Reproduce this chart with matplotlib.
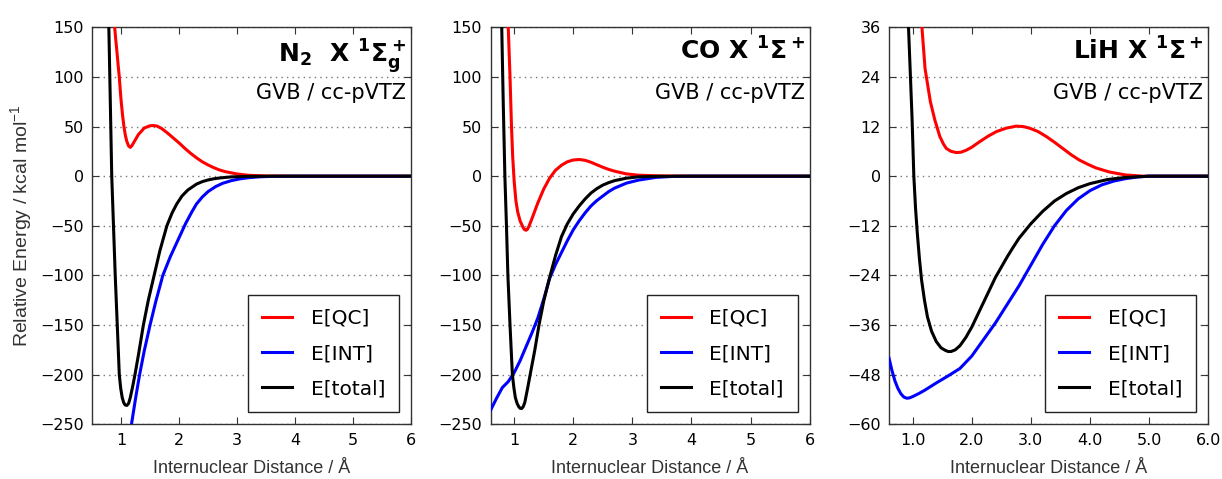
import matplotlib
matplotlib.use("Agg")
import matplotlib.pyplot as plt

plt.rcParams['font.family'] = ['DejaVu Sans']
plt.rcParams['mathtext.default'] = 'regular'

# ---- N2 X 1Sigma_g+ ----
n2_qc_x = [0.89, 0.91, 0.93, 0.95, 0.97, 0.985, 1.0, 1.025, 1.05, 1.075, 1.1, 1.13,
           1.16, 1.19, 1.23, 1.3, 1.4, 1.5, 1.56, 1.62, 1.7, 1.8, 1.9, 2.0, 2.1,
           2.2, 2.3, 2.4, 2.5, 2.6, 2.7, 2.8, 3.0, 3.2, 3.5, 4.0, 6.0]
n2_qc_y = [150, 137, 125, 112, 100, 88, 77, 62, 50, 41, 35, 30.5,
           29, 31, 35, 42, 48.5, 50.8, 51, 50.5, 48, 43.5, 38.5, 33.5, 28,
           23, 18.5, 14.5, 11.3, 8.5, 6.2, 4.5, 2.2, 0.9, 0.2, 0, 0]
n2_int_x = [1.18, 1.25, 1.32, 1.4, 1.5, 1.6, 1.72, 1.85, 2.0, 2.11, 2.22, 2.3, 2.4,
            2.5, 2.63, 2.75, 2.9, 3.05, 3.2, 3.4, 3.6, 4.0, 6.0]
n2_int_y = [-250, -224, -200, -176, -150, -126, -100, -81, -62, -48, -36, -28, -21,
            -15.5, -10.5, -7.2, -4.5, -2.7, -1.5, -0.6, -0.2, 0, 0]
n2_tot_x = [0.79, 0.815, 0.84, 0.87, 0.90, 0.935, 0.97, 0.995, 1.02, 1.045, 1.07,
            1.1, 1.13, 1.16, 1.2, 1.24, 1.3, 1.385, 1.47, 1.57, 1.67, 1.79, 1.88,
            1.96, 2.05, 2.15, 2.3, 2.4, 2.5, 2.6, 2.7, 2.9, 3.2, 3.6, 6.0]
n2_tot_y = [150, 75, 0, -50, -100, -150, -200, -214, -223, -228, -230.5,
            -231, -229, -223, -212, -200, -180, -150, -125, -100, -75, -50, -37,
            -28, -20, -14, -8, -5.5, -3.8, -2.6, -1.8, -0.7, -0.2, 0, 0]

# ---- CO X 1Sigma+ ----
co_qc_x = [0.90, 0.93, 0.955, 0.975, 1.0, 1.03, 1.06, 1.1, 1.15, 1.175, 1.2, 1.225,
           1.25, 1.3, 1.35, 1.4, 1.5, 1.6, 1.7, 1.8, 1.9, 2.0, 2.1, 2.2, 2.3, 2.4,
           2.5, 2.6, 2.7, 2.9, 3.1, 3.4, 3.7, 4.0, 6.0]
co_qc_y = [150, 100, 50, 20, -5, -25, -36, -45, -51.5, -53.8, -54.5, -53.5,
           -50.5, -43, -35, -27, -13, -2, 6, 11, 14.5, 16.3, 16.8, 16, 14, 11.5,
           9, 6.8, 5, 2.3, 1, 0.4, 0.1, 0, 0]
co_int_x = [0.6, 0.7, 0.8, 0.9, 1.0, 1.1, 1.2, 1.3, 1.4, 1.5, 1.6, 1.7, 1.8, 1.9,
            2.0, 2.1, 2.2, 2.3, 2.4, 2.5, 2.6, 2.7, 2.9, 3.1, 3.4, 3.7, 4.0, 6.0]
co_int_y = [-236, -224, -213, -207, -198, -186, -172, -158, -143, -124, -103, -89,
            -77, -65, -54, -45, -37, -30, -24.5, -20, -15.5, -12, -7, -4, -1.2,
            -0.2, 0, 0]
co_tot_x = [0.79, 0.815, 0.843, 0.87, 0.894, 0.93, 0.97, 0.995, 1.02, 1.05, 1.08,
            1.105, 1.13, 1.155, 1.18, 1.23, 1.28, 1.35, 1.42, 1.5, 1.6, 1.7, 1.8,
            1.9, 2.0, 2.1, 2.2, 2.3, 2.4, 2.5, 2.6, 2.7, 2.9, 3.1, 3.4, 3.8, 6.0]
co_tot_y = [150, 75, 0, -50, -100, -150, -200, -213, -223, -229, -232.5,
            -234, -234, -232, -228, -213, -197, -175, -150, -126, -102, -80, -61,
            -48, -38, -30, -23, -17, -12.5, -9, -6.5, -4.5, -2, -0.7, -0.2, 0, 0]

# ---- LiH X 1Sigma+ ----
lih_qc_x = [1.157, 1.21, 1.3, 1.375, 1.46, 1.52, 1.57, 1.65, 1.74, 1.82, 1.91, 2.0,
            2.13, 2.28, 2.42, 2.58, 2.75, 2.87, 2.98, 3.12, 3.26, 3.4, 3.54, 3.68,
            3.82, 3.96, 4.1, 4.33, 4.6, 4.9, 6.0]
lih_qc_y = [36, 26, 18, 13.6, 9.6, 7.8, 6.7, 6.0, 5.7, 5.8, 6.3, 7.0,
            8.3, 9.7, 10.8, 11.6, 12.1, 12.0, 11.6, 10.8, 9.6, 8.2, 6.7, 5.2,
            3.9, 2.9, 2.0, 1.0, 0.3, 0, 0]
lih_int_x = [0.6, 0.65, 0.7, 0.75, 0.8, 0.85, 0.9, 0.95, 1.0, 1.1, 1.2, 1.4, 1.6,
             1.8, 2.0, 2.2, 2.4, 2.6, 2.8, 3.0, 3.2, 3.4, 3.6, 3.8, 4.0, 4.2,
             4.4, 4.6, 4.8, 5.0, 6.0]
lih_int_y = [-44, -47, -49.5, -51.3, -52.6, -53.4, -53.7, -53.6, -53.3, -52.6,
             -51.8, -50, -48.3, -46.5, -43.5, -39.5, -35.5, -31, -26.5, -21.5,
             -16.5, -12, -8.3, -5.5, -3.5, -2.1, -1.2, -0.6, -0.2, 0, 0]
lih_tot_x = [0.93, 0.96, 0.99, 1.02, 1.05, 1.08, 1.115, 1.15, 1.2, 1.25, 1.32, 1.4,
             1.48, 1.55, 1.6, 1.65, 1.72, 1.8, 1.9, 2.0, 2.1, 2.2, 2.3, 2.4, 2.5,
             2.6, 2.7, 2.8, 3.0, 3.2, 3.4, 3.6, 3.8, 4.0, 4.3, 4.6, 5.0, 6.0]
lih_tot_y = [36, 25, 14, 0, -8, -14, -20, -25, -30, -34, -37.5, -40,
             -41.5, -42.1, -42.4, -42.4, -42, -41, -39, -36.5, -33.5, -30.5, -27.5,
             -24.5, -22, -19.5, -17.2, -15, -11.5, -8.5, -6, -4.2, -2.8, -1.8,
             -0.8, -0.3, 0, 0]

titles = [r'N$_2$  X $^1\Sigma_g^+$', r'CO X $^1\Sigma^+$', r'LiH X $^1\Sigma^+$']
method = 'GVB / cc-pVTZ'
labels = ['E[QC]', 'E[INT]', 'E[total]']
colors = ['red', 'blue', 'black']

panels = [
    ((n2_qc_x, n2_qc_y), (n2_int_x, n2_int_y), (n2_tot_x, n2_tot_y)),
    ((co_qc_x, co_qc_y), (co_int_x, co_int_y), (co_tot_x, co_tot_y)),
    ((lih_qc_x, lih_qc_y), (lih_int_x, lih_int_y), (lih_tot_x, lih_tot_y)),
]
xlims = [(0.5, 6.0), (0.6, 6.0), (0.6, 6.0)]
ylims = [(-250, 150), (-250, 150), (-60, 36)]
yticks = [range(-250, 151, 50), range(-250, 151, 50), range(-60, 37, 12)]
lefts = [0.0753, 0.4014, 0.7275]

label_font = ['Liberation Sans Narrow', 'Liberation Sans', 'DejaVu Sans']

fig = plt.figure(figsize=(12.22, 4.79), dpi=100)

for i, curves in enumerate(panels):
    ax = fig.add_axes([lefts[i], 0.1142, 0.2612, 0.8288])
    for (xs, ys), c, lab in zip(curves, colors, labels):
        ax.plot(xs, ys, color=c, lw=2.2, label=lab, zorder=3,
                solid_joinstyle='round')

    ax.set_xlim(*xlims[i])
    ax.set_ylim(*ylims[i])
    ax.set_xticks([1, 2, 3, 4, 5, 6])
    if i == 2:
        ax.set_xticklabels(['1.0', '2.0', '3.0', '4.0', '5.0', '6.0'])
    ax.set_yticks(list(yticks[i]))
    ax.yaxis.grid(True, linestyle=(0, (1, 3)), color='#777777', lw=1.0)
    ax.tick_params(direction='in', top=True, right=True, length=5,
                   labelsize=11.5, pad=6, color='#333333')
    for s in ax.spines.values():
        s.set_color('#333333')
        s.set_linewidth(1.0)

    ax.text(0.985, 0.975, titles[i], transform=ax.transAxes, ha='right',
            va='top', fontsize=18, fontweight='bold')
    ax.text(0.985, 0.86, method, transform=ax.transAxes, ha='right',
            va='top', fontsize=15)

    leg = ax.legend(loc='lower right', fontsize=14.5, handlelength=1.5,
                    handletextpad=0.9, labelspacing=0.8, borderpad=0.7,
                    borderaxespad=0.6, fancybox=False, framealpha=1.0)
    leg.get_frame().set_edgecolor('#222222')
    leg.get_frame().set_linewidth(1.0)

    ax.set_xlabel('Internuclear Distance / Å', family=label_font,
                  fontsize=13, color='#333333', labelpad=9)
    if i == 0:
        ax.set_ylabel('Relative Energy / kcal mol$^{-1}$', family=label_font,
                      fontsize=14, color='#333333', labelpad=4)

fig.savefig('out.png', dpi=100)
